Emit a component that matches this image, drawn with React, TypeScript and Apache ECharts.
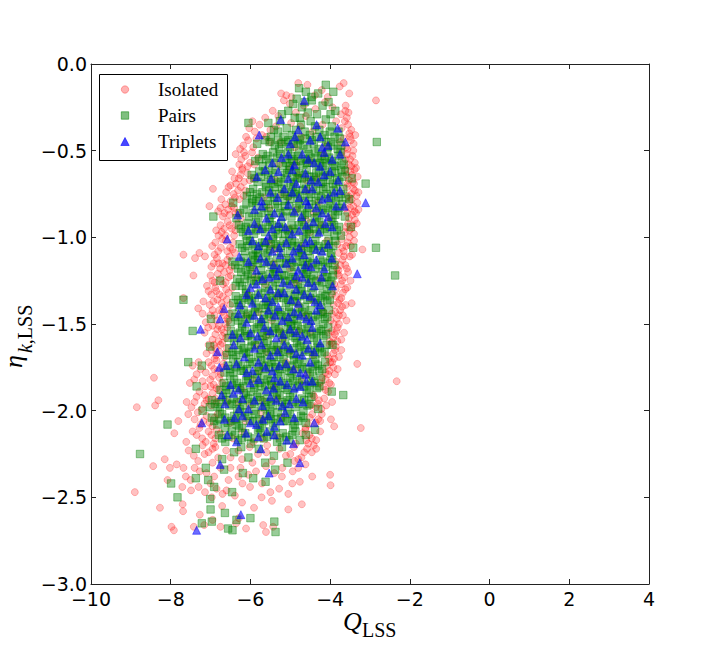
import React, { useEffect, useRef } from "react";
import * as echarts from "echarts";

const seriesNames = ["Isolated", "Pairs", "Triplets"];
const xTickValues = [-10, -8, -6, -4, -2, 0, 2, 4];
const xTickLabels = ["\u221210", "\u22128", "\u22126", "\u22124", "\u22122", "0", "2", "4"];
const yTickValues = [-3, -2.5, -2, -1.5, -1, -0.5, 0];
const yTickLabels = ["\u22123.0", "\u22122.5", "\u22122.0", "\u22121.5", "\u22121.0", "\u22120.5", "0.0"];

const isolated: number[][] = [
[-5.23,-0.17],[-4.21,-0.15],[-3.52,-0.17],[-3.76,-0.13],[-4.57,-0.12],[-4.97,-0.19],[-3.66,-0.11],[-4.06,-0.19],[-4.38,-0.18],
[-2.85,-0.21],[-5.01,-0.23],[-5.44,-0.27],[-3.61,-0.24],[-4.37,-0.26],[-3.73,-0.29],[-4.86,-0.28],[-5.16,-0.21],[-3.54,-0.28],[-4.13,-0.22],[-3.94,-0.25],[-4.66,-0.24],
[-6.03,-0.37],[-5.77,-0.35],[-5.63,-0.31],[-3.63,-0.33],[-3.47,-0.38],[-5.36,-0.36],[-4.98,-0.34],[-4.19,-0.35],[-3.71,-0.37],[-5.89,-0.39],[-4.61,-0.30],[-3.58,-0.31],[-4.44,-0.39],
[-6.26,-0.49],[-3.50,-0.42],[-6.06,-0.44],[-5.93,-0.48],[-5.71,-0.41],[-3.41,-0.46],[-3.56,-0.49],[-3.66,-0.43],[-5.51,-0.45],[-4.72,-0.42],[-4.09,-0.47],[-6.11,-0.42],[-3.37,-0.41],[-4.88,-0.48],
[-6.07,-0.59],[-6.23,-0.55],[-6.37,-0.52],[-5.96,-0.51],[-3.44,-0.53],[-3.53,-0.58],[-3.38,-0.57],[-3.61,-0.55],[-6.01,-0.57],[-5.81,-0.54],[-4.51,-0.56],[-5.29,-0.58],[-3.71,-0.51],[-6.13,-0.53],[-4.17,-0.52],
[-6.46,-0.62],[-6.29,-0.66],[-6.16,-0.68],[-6.07,-0.63],[-3.49,-0.62],[-3.31,-0.65],[-3.43,-0.68],[-3.56,-0.69],[-3.59,-0.64],[-6.21,-0.61],[-6.36,-0.69],[-5.91,-0.66],[-4.81,-0.64],[-3.39,-0.61],[-5.37,-0.67],[-4.33,-0.66],
[-6.39,-0.77],[-6.94,-0.72],[-6.61,-0.74],[-6.24,-0.71],[-6.49,-0.79],[-6.17,-0.76],[-3.42,-0.72],[-3.34,-0.76],[-3.51,-0.79],[-3.29,-0.74],[-3.58,-0.71],[-6.31,-0.73],[-6.73,-0.78],[-5.21,-0.75],[-3.46,-0.78],[-4.56,-0.73],[-5.66,-0.77],
[-7.03,-0.82],[-3.42,-0.82],[-3.35,-0.86],[-6.56,-0.84],[-6.69,-0.88],[-6.38,-0.86],[-6.63,-0.81],[-6.24,-0.89],[-3.45,-0.87],[-3.53,-0.89],[-3.29,-0.84],[-3.61,-0.83],[-6.47,-0.82],[-6.81,-0.85],[-4.41,-0.86],[-5.52,-0.83],[-4.02,-0.89],
[-6.72,-0.97],[-6.47,-0.95],[-6.75,-0.93],[-6.57,-0.91],[-6.41,-0.99],[-6.62,-0.99],[-3.47,-0.95],[-3.55,-0.92],[-3.40,-0.98],[-3.63,-0.97],[-3.33,-0.92],[-6.34,-0.92],[-6.86,-0.96],[-5.01,-0.95],[-3.51,-1.00],[-5.82,-0.94],[-4.23,-0.93],
[-7.68,-1.10],[-7.28,-1.09],[-6.96,-1.05],[-6.81,-1.08],[-6.62,-1.02],[-6.51,-1.06],[-6.39,-1.09],[-6.71,-1.01],[-3.19,-1.07],[-3.56,-1.03],[-3.66,-1.08],[-3.48,-1.05],[-3.71,-1.01],[-6.44,-1.03],[-3.78,-1.09],[-4.71,-1.05],[-5.38,-1.07],[-4.08,-1.02],
[-7.14,-1.11],[-7.39,-1.12],[-6.92,-1.15],[-6.76,-1.18],[-6.58,-1.13],[-6.47,-1.17],[-6.66,-1.20],[-6.84,-1.12],[-3.58,-1.18],[-3.69,-1.13],[-3.62,-1.16],[-3.79,-1.19],[-3.51,-1.11],[-3.86,-1.14],[-5.41,-1.15],[-6.52,-1.11],[-4.53,-1.17],[-5.92,-1.18],
[-7.43,-1.22],[-6.95,-1.25],[-6.82,-1.21],[-6.69,-1.27],[-7.09,-1.28],[-6.55,-1.23],[-6.45,-1.29],[-6.61,-1.30],[-3.64,-1.23],[-3.73,-1.27],[-3.57,-1.29],[-3.81,-1.21],[-3.86,-1.30],[-3.49,-1.25],[-4.91,-1.26],[-6.88,-1.29],[-4.27,-1.24],[-5.63,-1.27],
[-7.68,-1.35],[-7.18,-1.37],[-6.93,-1.37],[-6.78,-1.33],[-6.59,-1.36],[-6.51,-1.39],[-6.86,-1.31],[-7.02,-1.39],[-3.46,-1.38],[-3.68,-1.32],[-3.76,-1.36],[-3.61,-1.39],[-3.85,-1.34],[-3.91,-1.39],[-5.31,-1.34],[-6.68,-1.40],[-4.46,-1.36],[-6.07,-1.33],
[-7.31,-1.41],[-7.01,-1.45],[-6.85,-1.48],[-6.71,-1.43],[-6.58,-1.47],[-6.95,-1.42],[-6.62,-1.50],[-7.12,-1.49],[-3.75,-1.42],[-3.83,-1.47],[-3.68,-1.45],[-3.91,-1.50],[-3.96,-1.44],[-3.59,-1.48],[-4.61,-1.45],[-6.52,-1.44],[-5.46,-1.48],[-4.17,-1.43],
[-7.06,-1.52],[-6.88,-1.56],[-6.72,-1.53],[-6.61,-1.58],[-6.95,-1.59],[-6.79,-1.51],[-3.81,-1.52],[-3.88,-1.56],[-3.72,-1.59],[-3.96,-1.54],[-4.01,-1.60],[-3.65,-1.55],[-5.61,-1.57],[-6.66,-1.55],[-4.78,-1.54],[-5.19,-1.59],
[-6.92,-1.62],[-6.78,-1.66],[-6.65,-1.69],[-6.86,-1.68],[-6.71,-1.61],[-6.98,-1.65],[-3.86,-1.63],[-3.92,-1.67],[-3.78,-1.69],[-4.01,-1.62],[-4.03,-1.70],[-3.72,-1.65],[-5.02,-1.66],[-6.59,-1.64],[-4.43,-1.68],[-5.86,-1.62],
[-7.45,-1.74],[-7.35,-1.79],[-3.32,-1.73],[-7.05,-1.72],[-6.91,-1.76],[-6.75,-1.79],[-6.85,-1.71],[-7.12,-1.78],[-6.68,-1.73],[-3.95,-1.72],[-4.02,-1.77],[-3.88,-1.79],[-4.08,-1.74],[-3.81,-1.76],[-5.79,-1.77],[-6.95,-1.80],[-5.11,-1.72],[-4.57,-1.79],
[-8.42,-1.81],[-7.52,-1.84],[-7.14,-1.86],[-2.33,-1.83],[-7.01,-1.82],[-6.85,-1.87],[-6.78,-1.81],[-7.28,-1.89],[-6.95,-1.90],[-4.11,-1.82],[-4.18,-1.86],[-4.05,-1.89],[-4.26,-1.84],[-3.98,-1.85],[-5.41,-1.86],[-7.41,-1.82],[-6.22,-1.88],[-4.72,-1.83],
[-8.85,-1.98],[-8.39,-1.97],[-8.31,-1.94],[-7.60,-1.95],[-7.35,-1.92],[-7.15,-1.96],[-7.22,-1.99],[-7.48,-1.98],[-4.40,-1.92],[-4.31,-1.96],[-4.22,-1.99],[-4.48,-1.97],[-4.15,-1.93],[-6.01,-1.97],[-7.05,-1.93],[-3.95,-1.95],[-5.32,-1.93],[-6.58,-1.95],
[-3.23,-2.10],[-3.90,-2.09],[-3.98,-2.05],[-4.21,-2.02],[-4.36,-2.07],[-4.51,-2.04],[-7.10,-2.03],[-7.25,-2.08],[-7.40,-2.05],[-7.56,-2.02],[-6.95,-2.09],[-7.81,-2.06],[-5.21,-2.04],[-4.62,-2.10],[-6.12,-2.06],[-5.73,-2.01],[-6.82,-2.02],
[-4.46,-2.16],[-4.25,-2.12],[-4.55,-2.19],[-4.69,-2.13],[-7.05,-2.12],[-7.21,-2.16],[-6.92,-2.19],[-7.35,-2.14],[-7.61,-2.18],[-6.85,-2.11],[-5.31,-2.15],[-4.41,-2.20],[-7.91,-2.13],[-5.93,-2.18],[-6.44,-2.16],[-4.86,-2.19],[-5.58,-2.20],
[-4.46,-2.24],[-4.58,-2.22],[-4.72,-2.27],[-4.91,-2.21],[-5.11,-2.26],[-6.95,-2.22],[-7.15,-2.25],[-7.31,-2.29],[-6.81,-2.27],[-6.61,-2.23],[-5.81,-2.25],[-6.21,-2.28],[-7.55,-2.23],[-8.15,-2.28],[-5.46,-2.29],[-6.02,-2.21],[-5.27,-2.22],
[-8.44,-2.32],[-8.02,-2.33],[-7.85,-2.31],[-7.68,-2.33],[-7.62,-2.38],[-8.08,-2.40],[-7.27,-2.35],[-4.94,-2.35],[-4.00,-2.37],[-6.50,-2.33],[-6.05,-2.37],[-5.61,-2.32],[-5.21,-2.38],[-6.91,-2.38],[-4.62,-2.31],[-5.86,-2.35],
[-8.90,-2.47],[-7.49,-2.46],[-7.14,-2.47],[-6.85,-2.45],[-6.60,-2.46],[-6.39,-2.49],[-5.28,-2.45],[-4.76,-2.41],[-3.99,-2.43],[-6.01,-2.44],[-5.71,-2.42],[-5.05,-2.48],[-6.97,-2.50],[-7.71,-2.44],
[-8.27,-2.56],[-7.70,-2.54],[-7.69,-2.58],[-7.27,-2.60],[-5.72,-2.50],[-5.05,-2.57],[-4.71,-2.54],[-6.21,-2.53],[-5.91,-2.56],[-6.71,-2.55],[-5.46,-2.52],
[-7.98,-2.67],[-7.92,-2.69],[-7.42,-2.67],[-6.75,-2.67],[-6.36,-2.65],[-6.29,-2.62],[-5.68,-2.66],[-5.61,-2.70],[-5.43,-2.67],[-6.95,-2.63],[-7.16,-2.66],[-6.11,-2.68],
[-5.95,-0.33],[-5.50,-0.38],[-3.85,-0.33],[-3.55,-0.35],[-4.75,-0.36],
[-5.85,-0.43],[-6.18,-0.47],[-3.75,-0.45],[-3.48,-0.44],[-3.60,-0.48],[-5.25,-0.45],
[-6.28,-0.58],[-6.16,-0.51],[-5.90,-0.58],[-3.50,-0.55],[-3.58,-0.52],[-3.47,-0.59],[-4.85,-0.57],
[-6.40,-0.66],[-6.25,-0.64],[-6.02,-0.67],[-3.45,-0.64],[-3.53,-0.67],[-3.62,-0.61],[-4.60,-0.67],
[-6.55,-0.71],[-6.42,-0.75],[-6.28,-0.78],[-6.12,-0.73],[-3.38,-0.73],[-3.47,-0.75],[-3.55,-0.76],[-5.05,-0.77],
[-6.75,-0.83],[-6.52,-0.87],[-6.41,-0.83],[-6.30,-0.86],[-3.39,-0.85],[-3.50,-0.83],[-3.57,-0.86],[-4.85,-0.84],
[-6.66,-0.95],[-6.52,-0.93],[-6.38,-0.96],[-3.43,-0.93],[-3.52,-0.96],[-3.60,-0.94],[-4.50,-0.97],
[-6.88,-1.03],[-6.74,-1.06],[-6.58,-1.08],[-6.45,-1.07],[-3.60,-1.05],[-3.70,-1.06],[-3.82,-1.04],[-5.55,-1.02],
[-6.98,-1.17],[-6.80,-1.15],[-6.62,-1.16],[-6.52,-1.19],[-3.65,-1.11],[-3.74,-1.16],[-3.83,-1.18],[-5.00,-1.18],
[-7.00,-1.22],[-6.75,-1.24],[-6.62,-1.26],[-6.49,-1.22],[-3.70,-1.25],[-3.78,-1.22],[-3.90,-1.27],[-5.90,-1.23],
[-6.98,-1.33],[-6.83,-1.36],[-6.69,-1.34],[-6.55,-1.32],[-3.72,-1.35],[-3.80,-1.38],[-3.95,-1.33],[-4.80,-1.39],
[-6.90,-1.45],[-6.78,-1.42],[-6.66,-1.45],[-6.55,-1.48],[-3.78,-1.45],[-3.87,-1.43],[-3.99,-1.48],[-5.80,-1.43],
[-7.15,-1.55],[-6.83,-1.53],[-6.70,-1.57],[-6.58,-1.52],[-3.84,-1.54],[-3.92,-1.58],[-4.05,-1.55],[-5.25,-1.54],
[-7.05,-1.62],[-6.88,-1.64],[-6.75,-1.62],[-6.62,-1.67],[-3.88,-1.65],[-3.96,-1.61],[-4.08,-1.68],[-5.60,-1.66],
[-7.25,-1.76],[-6.98,-1.74],[-6.82,-1.77],[-6.70,-1.75],[-3.92,-1.75],[-4.00,-1.72],[-4.12,-1.78],[-4.90,-1.76],
[-7.20,-1.83],[-6.92,-1.85],[-6.80,-1.88],[-6.71,-1.84],[-4.02,-1.84],[-4.12,-1.88],[-4.20,-1.81],[-5.95,-1.82],
[-7.40,-1.95],[-7.10,-1.94],[-6.98,-1.97],[-6.88,-1.93],[-4.28,-1.94],[-4.36,-1.98],[-4.42,-1.91],[-5.70,-1.94],
[-7.32,-2.01],[-7.18,-2.06],[-7.03,-2.07],[-6.90,-2.04],[-4.45,-2.02],[-4.30,-2.05],[-4.55,-2.08],[-6.50,-2.07],
[-7.45,-2.12],[-7.12,-2.18],[-6.98,-2.14],[-6.88,-2.16],[-4.52,-2.14],[-4.35,-2.17],[-4.62,-2.11],[-5.70,-2.16],[-6.20,-2.12],
[-7.42,-2.26],[-7.05,-2.24],[-6.88,-2.21],[-6.50,-2.27],[-4.65,-2.24],[-4.80,-2.28],[-5.00,-2.25],[-5.60,-2.24],[-6.30,-2.23],
[-7.40,-2.33],[-7.10,-2.36],[-6.75,-2.33],[-6.30,-2.38],[-5.40,-2.36],[-4.80,-2.33],[-4.45,-2.38],
[-7.30,-2.44],[-7.00,-2.42],[-6.70,-2.48],[-6.20,-2.42],[-5.50,-2.47],[-4.95,-2.42],
[-6.90,-1.26],[-7.05,-1.31],[-6.72,-1.38],[-6.95,-1.51],[-7.20,-1.44],[-6.80,-1.60],[-7.10,-1.67],[-6.90,-1.70],[-7.30,-1.72],[-7.00,-1.86],
[-7.15,-1.91],[-6.85,-1.95],[-7.28,-2.10],[-6.75,-2.13],[-7.20,-2.20],[-6.95,-2.30],[-7.50,-2.40],[-6.55,-2.40],[-6.25,-2.33],[-5.95,-2.30],
[-5.20,-2.33],[-4.90,-2.29],[-4.60,-2.17],[-4.35,-2.22],[-4.25,-2.06],[-4.10,-1.97],[-4.05,-1.79],[-3.90,-1.70],[-3.82,-1.60],[-3.78,-1.50],
[-3.70,-1.40],[-3.62,-1.30],[-3.55,-1.20],[-3.45,-1.10],[-3.40,-1.02],[-3.38,-0.90],[-3.32,-0.80],[-3.40,-0.69],[-3.35,-0.60],[-3.42,-0.50],
[-3.52,-0.40],[-3.62,-0.27],[-5.60,-0.42],[-6.20,-0.60],[-6.50,-0.70],[-6.65,-0.86],[-6.80,-0.99],[-6.90,-1.10],[-6.70,-1.15],[-5.30,-0.30],
[-5.10,-0.18],[-4.80,-0.11],[-5.50,-1.05],[-4.80,-1.25],[-5.30,-1.65],[-6.10,-1.45],[-4.60,-0.90],[-5.70,-2.05],[-6.30,-1.95],[-4.50,-1.55],
[-5.00,-0.60],[-4.30,-0.80]
];

const pairs: number[][] = [
[-4.78,-0.14],[-3.92,-0.16],[-4.30,-0.17],[-4.84,-0.20],[-4.47,-0.19],[-4.11,-0.12],[-4.61,-0.16],
[-4.46,-0.21],[-4.19,-0.24],[-5.05,-0.27],[-4.71,-0.25],[-4.04,-0.22],[-3.87,-0.27],[-4.56,-0.28],[-4.93,-0.23],[-4.33,-0.29],[-5.21,-0.29],[-3.99,-0.29],[-4.63,-0.22],
[-6.05,-0.34],[-5.41,-0.38],[-5.55,-0.34],[-5.09,-0.37],[-4.89,-0.31],[-4.73,-0.35],[-4.49,-0.33],[-4.27,-0.38],[-4.11,-0.32],[-3.96,-0.36],[-3.79,-0.39],[-4.64,-0.39],[-4.86,-0.38],[-5.26,-0.33],[-4.38,-0.36],[-4.01,-0.39],[-4.76,-0.31],[-5.31,-0.39],
[-5.83,-0.46],[-2.83,-0.45],[-5.63,-0.44],[-5.39,-0.47],[-5.17,-0.42],[-5.01,-0.48],[-4.84,-0.43],[-4.67,-0.47],[-4.51,-0.41],[-4.41,-0.46],[-4.21,-0.43],[-4.06,-0.48],[-3.89,-0.42],[-3.72,-0.47],[-4.96,-0.41],[-4.57,-0.49],[-4.29,-0.49],[-5.28,-0.49],[-3.98,-0.45],[-4.76,-0.44],[-5.11,-0.45],[-4.14,-0.41],[-3.81,-0.49],[-5.49,-0.42],
[-5.88,-0.56],[-5.69,-0.52],[-5.53,-0.58],[-5.34,-0.54],[-5.19,-0.59],[-5.06,-0.51],[-4.91,-0.56],[-4.81,-0.53],[-4.67,-0.58],[-4.54,-0.52],[-4.46,-0.57],[-4.31,-0.54],[-4.19,-0.59],[-4.07,-0.51],[-3.96,-0.56],[-3.79,-0.53],[-3.66,-0.58],[-5.61,-0.55],[-5.13,-0.55],[-4.87,-0.59],[-4.61,-0.55],[-4.37,-0.51],[-4.14,-0.55],[-3.87,-0.59],[-5.43,-0.51],[-4.99,-0.53],[-4.25,-0.57],[-3.74,-0.51],
[-3.46,-0.66],[-3.11,-0.69],[-5.97,-0.64],[-5.82,-0.68],[-5.64,-0.62],[-5.49,-0.67],[-5.37,-0.61],[-5.23,-0.66],[-5.08,-0.63],[-4.99,-0.69],[-4.86,-0.62],[-4.71,-0.66],[-4.59,-0.61],[-4.47,-0.68],[-4.35,-0.63],[-4.23,-0.69],[-4.13,-0.62],[-4.01,-0.67],[-3.87,-0.63],[-3.77,-0.68],[-3.63,-0.62],[-5.73,-0.65],[-5.41,-0.69],[-5.17,-0.69],[-4.93,-0.65],[-4.65,-0.69],[-4.41,-0.65],[-4.17,-0.65],[-3.93,-0.69],[-3.69,-0.65],
[-3.52,-0.78],[-6.09,-0.76],[-5.93,-0.72],[-5.77,-0.77],[-5.61,-0.71],[-5.47,-0.75],[-5.33,-0.79],[-5.21,-0.72],[-5.07,-0.76],[-4.93,-0.71],[-4.81,-0.78],[-4.69,-0.73],[-4.54,-0.77],[-4.43,-0.71],[-4.29,-0.76],[-4.17,-0.72],[-4.04,-0.78],[-3.91,-0.73],[-3.79,-0.77],[-3.67,-0.72],[-5.86,-0.79],[-5.56,-0.79],[-5.13,-0.79],[-4.89,-0.75],[-4.63,-0.79],[-4.36,-0.79],[-4.09,-0.75],[-3.85,-0.79],[-5.39,-0.71],[-4.97,-0.74],
[-6.93,-0.88],[-6.43,-0.80],[-6.35,-0.89],[-6.17,-0.84],[-6.03,-0.88],[-5.87,-0.82],[-5.73,-0.86],[-5.61,-0.81],[-5.47,-0.87],[-5.31,-0.83],[-5.19,-0.88],[-5.03,-0.82],[-4.91,-0.86],[-4.77,-0.81],[-4.63,-0.87],[-4.53,-0.83],[-4.39,-0.89],[-4.27,-0.82],[-4.13,-0.86],[-3.99,-0.81],[-3.87,-0.87],[-3.77,-0.83],[-3.63,-0.88],[-5.96,-0.80],[-5.53,-0.89],[-5.11,-0.85],[-4.71,-0.89],[-4.33,-0.85],[-3.93,-0.84],[-3.48,-0.94],
[-6.29,-0.93],[-6.19,-0.97],[-6.07,-0.92],[-5.91,-0.98],[-5.79,-0.93],[-5.63,-0.97],[-5.51,-0.91],[-5.37,-0.96],[-5.23,-0.92],[-5.13,-0.98],[-4.97,-0.93],[-4.87,-0.97],[-4.71,-0.91],[-4.59,-0.96],[-4.47,-0.92],[-4.33,-0.98],[-4.21,-0.93],[-4.07,-0.97],[-3.97,-0.91],[-3.83,-0.96],[-3.73,-0.99],[-5.86,-0.91],[-5.43,-0.99],[-5.03,-0.99],[-4.67,-0.99],[-4.26,-0.96],[-3.89,-0.99],[-6.11,-0.99],[-5.29,-0.94],[-4.53,-0.95],
[-3.42,-1.06],[-2.85,-1.06],[-6.27,-1.04],[-6.14,-1.08],[-6.01,-1.02],[-5.87,-1.07],[-5.71,-1.03],[-5.57,-1.09],[-5.43,-1.01],[-5.31,-1.06],[-5.17,-1.02],[-5.01,-1.08],[-4.89,-1.03],[-4.73,-1.07],[-4.61,-1.01],[-4.49,-1.06],[-4.37,-1.02],[-4.23,-1.08],[-4.11,-1.04],[-3.97,-1.09],[-3.87,-1.02],[-6.07,-1.05],[-5.67,-1.06],[-5.23,-1.09],[-4.81,-1.09],[-4.43,-1.04],[-4.03,-1.06],[-5.93,-1.10],[-5.49,-1.04],[-4.95,-1.05],
[-6.45,-1.14],[-6.31,-1.18],[-6.17,-1.12],[-6.01,-1.17],[-5.89,-1.13],[-5.73,-1.19],[-5.61,-1.11],[-5.47,-1.16],[-5.33,-1.12],[-5.19,-1.18],[-5.03,-1.13],[-4.91,-1.17],[-4.77,-1.11],[-4.63,-1.16],[-4.51,-1.12],[-4.37,-1.18],[-4.25,-1.13],[-4.11,-1.17],[-3.99,-1.11],[-3.89,-1.16],[-6.23,-1.20],[-5.81,-1.15],[-5.37,-1.20],[-4.97,-1.20],[-4.57,-1.19],[-4.19,-1.20],[-3.93,-1.19],[-5.11,-1.15],[-4.69,-1.14],[-5.95,-1.11],
[-2.37,-1.22],[-6.76,-1.25],[-6.33,-1.24],[-6.21,-1.28],[-6.07,-1.22],[-5.91,-1.27],[-5.79,-1.23],[-5.63,-1.29],[-5.51,-1.21],[-5.37,-1.26],[-5.21,-1.22],[-5.09,-1.28],[-4.93,-1.23],[-4.81,-1.27],[-4.67,-1.21],[-4.53,-1.26],[-4.41,-1.22],[-4.27,-1.28],[-4.13,-1.23],[-4.01,-1.27],[-3.93,-1.22],[-6.11,-1.30],[-5.69,-1.25],[-5.27,-1.30],[-4.87,-1.30],[-4.47,-1.29],[-4.07,-1.30],[-5.97,-1.21],[-5.13,-1.25],[-4.61,-1.24],
[-7.68,-1.36],[-6.37,-1.34],[-6.23,-1.38],[-6.11,-1.32],[-5.97,-1.37],[-5.81,-1.33],[-5.67,-1.39],[-5.53,-1.31],[-5.41,-1.36],[-5.27,-1.32],[-5.11,-1.38],[-4.99,-1.33],[-4.83,-1.37],[-4.71,-1.31],[-4.57,-1.36],[-4.43,-1.32],[-4.31,-1.38],[-4.19,-1.33],[-4.07,-1.37],[-3.97,-1.31],[-6.29,-1.40],[-5.87,-1.40],[-5.47,-1.40],[-5.03,-1.40],[-4.63,-1.40],[-4.23,-1.40],[-6.03,-1.34],[-5.61,-1.35],[-5.17,-1.35],[-4.89,-1.34],
[-6.99,-1.47],[-6.45,-1.44],[-6.31,-1.48],[-6.17,-1.42],[-6.01,-1.47],[-5.89,-1.43],[-5.73,-1.49],[-5.61,-1.41],[-5.47,-1.46],[-5.31,-1.42],[-5.19,-1.48],[-5.03,-1.43],[-4.91,-1.47],[-4.77,-1.41],[-4.63,-1.46],[-4.49,-1.42],[-4.37,-1.48],[-4.23,-1.43],[-4.13,-1.47],[-4.03,-1.42],[-6.21,-1.50],[-5.79,-1.50],[-5.39,-1.50],[-4.97,-1.50],[-4.57,-1.50],[-4.17,-1.50],[-6.07,-1.44],[-5.67,-1.45],[-5.23,-1.45],[-4.81,-1.44],
[-7.45,-1.54],[-6.49,-1.54],[-6.33,-1.58],[-6.21,-1.52],[-6.07,-1.57],[-5.91,-1.53],[-5.77,-1.59],[-5.63,-1.51],[-5.51,-1.56],[-5.37,-1.52],[-5.21,-1.58],[-5.07,-1.53],[-4.93,-1.57],[-4.81,-1.51],[-4.67,-1.56],[-4.53,-1.52],[-4.41,-1.58],[-4.27,-1.53],[-4.17,-1.57],[-4.05,-1.52],[-6.41,-1.60],[-5.97,-1.60],[-5.57,-1.60],[-5.13,-1.60],[-4.73,-1.60],[-4.33,-1.60],[-6.13,-1.54],[-5.71,-1.55],[-5.27,-1.55],[-4.87,-1.54],
[-7.01,-1.63],[-3.94,-1.62],[-6.53,-1.64],[-6.37,-1.68],[-6.23,-1.62],[-6.11,-1.67],[-5.97,-1.63],[-5.81,-1.69],[-5.67,-1.61],[-5.53,-1.66],[-5.41,-1.62],[-5.27,-1.68],[-5.11,-1.63],[-4.99,-1.67],[-4.83,-1.61],[-4.71,-1.66],[-4.57,-1.62],[-4.43,-1.68],[-4.31,-1.63],[-4.21,-1.67],[-4.09,-1.62],[-6.43,-1.70],[-6.03,-1.70],[-5.59,-1.70],[-5.17,-1.70],[-4.77,-1.70],[-4.37,-1.70],[-6.17,-1.64],[-5.73,-1.65],[-5.31,-1.65],[-4.91,-1.64],
[-7.56,-1.72],[-7.22,-1.74],[-6.57,-1.74],[-6.43,-1.78],[-6.31,-1.72],[-6.17,-1.77],[-6.01,-1.73],[-5.89,-1.79],[-5.73,-1.71],[-5.61,-1.76],[-5.47,-1.72],[-5.31,-1.78],[-5.19,-1.73],[-5.03,-1.77],[-4.91,-1.71],[-4.77,-1.76],[-4.63,-1.72],[-4.51,-1.78],[-4.37,-1.73],[-4.27,-1.77],[-4.13,-1.72],[-6.51,-1.80],[-6.07,-1.80],[-5.67,-1.80],[-5.23,-1.80],[-4.83,-1.80],[-4.43,-1.80],[-6.23,-1.74],[-5.79,-1.75],[-5.37,-1.75],[-4.97,-1.74],
[-7.35,-1.86],[-3.96,-1.89],[-6.67,-1.84],[-6.53,-1.88],[-6.41,-1.82],[-6.27,-1.87],[-6.11,-1.83],[-5.99,-1.89],[-5.83,-1.81],[-5.71,-1.86],[-5.57,-1.82],[-5.41,-1.88],[-5.29,-1.83],[-5.13,-1.87],[-5.01,-1.81],[-4.87,-1.86],[-4.71,-1.82],[-4.59,-1.88],[-4.47,-1.83],[-4.33,-1.87],[-4.23,-1.82],[-6.61,-1.90],[-6.17,-1.90],[-5.77,-1.90],[-5.33,-1.90],[-4.93,-1.90],[-4.53,-1.90],[-6.33,-1.84],[-5.91,-1.85],[-5.47,-1.85],[-5.07,-1.84],
[-3.67,-1.91],[-4.30,-1.99],[-7.20,-2.00],[-6.97,-1.94],[-6.81,-1.98],[-6.69,-1.92],[-6.53,-1.97],[-6.41,-1.93],[-6.27,-1.99],[-6.11,-1.91],[-5.97,-1.96],[-5.83,-1.92],[-5.71,-1.98],[-5.57,-1.93],[-5.43,-1.97],[-5.27,-1.91],[-5.13,-1.96],[-5.01,-1.92],[-4.87,-1.98],[-4.71,-1.93],[-4.57,-1.97],[-4.47,-1.92],[-6.77,-2.00],[-6.33,-2.00],[-5.91,-2.00],[-5.51,-2.00],[-5.07,-2.00],[-4.67,-2.00],[-6.19,-1.94],[-5.63,-1.95],[-5.21,-1.95],
[-8.08,-2.08],[-6.97,-2.04],[-6.83,-2.08],[-6.71,-2.02],[-6.57,-2.07],[-6.41,-2.03],[-6.29,-2.09],[-6.13,-2.01],[-6.01,-2.06],[-5.87,-2.02],[-5.71,-2.08],[-5.59,-2.03],[-5.43,-2.07],[-5.31,-2.01],[-5.17,-2.06],[-5.01,-2.02],[-4.89,-2.08],[-4.73,-2.03],[-4.61,-2.07],[-6.63,-2.10],[-6.21,-2.10],[-5.77,-2.10],[-5.37,-2.10],[-4.93,-2.10],[-6.37,-2.05],[-5.49,-2.05],
[-4.38,-2.11],[-4.76,-2.17],[-6.79,-2.14],[-6.63,-2.18],[-6.47,-2.12],[-6.31,-2.17],[-6.13,-2.13],[-5.99,-2.19],[-5.81,-2.11],[-5.67,-2.16],[-5.51,-2.12],[-5.33,-2.18],[-5.19,-2.13],[-5.03,-2.17],[-4.87,-2.12],[-4.61,-2.14],
[-8.77,-2.25],[-7.37,-2.22],[-5.63,-2.30],[-5.07,-2.30],[-6.41,-2.24],[-6.05,-2.27],[-5.79,-2.22],[-5.41,-2.26],[-6.71,-2.28],[-5.21,-2.21],[-6.23,-2.21],
[-7.12,-2.33],[-6.66,-2.34],[-5.38,-2.34],[-7.37,-2.39],[-7.06,-2.40],[-5.93,-2.39],[-6.19,-2.36],
[-5.62,-2.41],[-7.99,-2.42],[-7.83,-2.50],[-6.91,-2.44],[-6.46,-2.47],
[-7.01,-2.51],[-7.00,-2.57],[-6.64,-2.59],
[-7.22,-2.65],[-6.97,-2.64],[-6.56,-2.68],[-6.45,-2.69],[-6.35,-2.63],[-6.00,-2.62],[-5.40,-2.64],[-5.37,-2.70],
[-5.52,-0.45],[-5.31,-0.44],[-5.05,-0.44],[-4.91,-0.46],[-4.62,-0.43],[-4.46,-0.44],[-4.34,-0.42],[-4.10,-0.45],[-3.93,-0.47],[-3.76,-0.43],[-5.22,-0.46],[-4.80,-0.46],
[-5.78,-0.55],[-5.57,-0.53],[-5.40,-0.57],[-5.25,-0.52],[-5.10,-0.57],[-4.95,-0.55],[-4.74,-0.56],[-4.58,-0.57],[-4.50,-0.54],[-4.35,-0.58],[-4.22,-0.53],[-4.02,-0.54],[-3.91,-0.58],[-3.70,-0.56],[-5.01,-0.59],[-4.78,-0.51],[-5.69,-0.59],[-4.10,-0.57],
[-5.90,-0.66],[-5.78,-0.62],[-5.55,-0.64],[-5.44,-0.63],[-5.30,-0.68],[-5.14,-0.64],[-5.03,-0.61],[-4.90,-0.68],[-4.78,-0.63],[-4.64,-0.64],[-4.52,-0.65],[-4.39,-0.67],[-4.28,-0.62],[-4.19,-0.68],[-4.06,-0.64],[-3.96,-0.62],[-3.82,-0.66],[-3.72,-0.61],[-5.61,-0.69],[-4.82,-0.66],
[-6.01,-0.74],[-5.84,-0.75],[-5.70,-0.74],[-5.53,-0.73],[-5.41,-0.77],[-5.27,-0.75],[-5.14,-0.74],[-5.01,-0.78],[-4.86,-0.73],[-4.75,-0.76],[-4.61,-0.72],[-4.49,-0.75],[-4.35,-0.73],[-4.23,-0.77],[-4.11,-0.71],[-3.98,-0.76],[-3.86,-0.71],[-3.73,-0.75],[-3.61,-0.77],[-5.95,-0.78],
[-6.26,-0.86],[-6.10,-0.81],[-5.95,-0.86],[-5.80,-0.88],[-5.66,-0.83],[-5.54,-0.85],[-5.39,-0.81],[-5.25,-0.86],[-5.14,-0.82],[-4.97,-0.88],[-4.84,-0.83],[-4.70,-0.84],[-4.58,-0.86],[-4.46,-0.81],[-4.33,-0.88],[-4.19,-0.84],[-4.06,-0.83],[-3.94,-0.89],[-3.81,-0.85],[-3.70,-0.81],
[-6.24,-0.95],[-6.12,-0.94],[-5.98,-0.95],[-5.85,-0.96],[-5.70,-0.95],[-5.57,-0.94],[-5.45,-0.93],[-5.31,-0.98],[-5.18,-0.95],[-5.06,-0.96],[-4.92,-0.95],[-4.79,-0.93],[-4.65,-0.94],[-4.53,-0.98],[-4.40,-0.95],[-4.27,-0.91],[-4.14,-0.95],[-4.01,-0.94],[-3.90,-0.93],[-3.78,-0.94],
[-6.21,-1.06],[-6.08,-1.02],[-5.94,-1.04],[-5.79,-1.05],[-5.64,-1.03],[-5.51,-1.07],[-5.37,-1.04],[-5.24,-1.05],[-5.09,-1.04],[-4.96,-1.02],[-4.81,-1.05],[-4.67,-1.04],[-4.55,-1.08],[-4.42,-1.07],[-4.30,-1.05],[-4.16,-1.06],[-4.04,-1.02],[-3.92,-1.05],[-5.81,-1.09],[-4.70,-1.09],
[-6.38,-1.16],[-6.24,-1.14],[-6.09,-1.15],[-5.95,-1.16],[-5.81,-1.11],[-5.67,-1.15],[-5.54,-1.14],[-5.40,-1.18],[-5.26,-1.15],[-5.11,-1.12],[-4.97,-1.15],[-4.84,-1.14],[-4.71,-1.18],[-4.57,-1.14],[-4.44,-1.15],[-4.31,-1.16],[-4.18,-1.14],[-4.05,-1.15],[-3.95,-1.13],[-6.11,-1.19],
[-6.27,-1.26],[-6.14,-1.24],[-5.99,-1.25],[-5.85,-1.25],[-5.71,-1.22],[-5.57,-1.24],[-5.44,-1.28],[-5.30,-1.24],[-5.15,-1.22],[-5.01,-1.25],[-4.87,-1.24],[-4.74,-1.29],[-4.60,-1.21],[-4.47,-1.24],[-4.34,-1.25],[-4.20,-1.26],[-4.07,-1.23],[-3.97,-1.25],[-6.37,-1.28],[-5.43,-1.21],
[-6.31,-1.36],[-6.17,-1.35],[-6.04,-1.36],[-5.89,-1.35],[-5.74,-1.32],[-5.60,-1.37],[-5.47,-1.34],[-5.34,-1.35],[-5.19,-1.33],[-5.05,-1.36],[-4.92,-1.37],[-4.77,-1.34],[-4.64,-1.33],[-4.50,-1.35],[-4.37,-1.36],[-4.24,-1.35],[-4.12,-1.34],[-4.01,-1.36],[-6.43,-1.38],[-5.55,-1.39],
[-6.38,-1.46],[-6.24,-1.45],[-6.10,-1.47],[-5.95,-1.45],[-5.81,-1.41],[-5.67,-1.47],[-5.53,-1.44],[-5.40,-1.45],[-5.25,-1.43],[-5.11,-1.46],[-4.97,-1.44],[-4.84,-1.48],[-4.70,-1.43],[-4.56,-1.45],[-4.43,-1.46],[-4.30,-1.45],[-4.18,-1.44],[-4.07,-1.46],[-6.50,-1.49],[-5.05,-1.49],
[-6.41,-1.56],[-6.27,-1.55],[-6.13,-1.57],[-5.99,-1.56],[-5.84,-1.52],[-5.70,-1.57],[-5.57,-1.54],[-5.44,-1.55],[-5.29,-1.53],[-5.15,-1.56],[-5.00,-1.55],[-4.87,-1.58],[-4.73,-1.53],[-4.60,-1.55],[-4.47,-1.56],[-4.34,-1.55],[-4.22,-1.54],[-4.10,-1.56],[-6.55,-1.58],[-4.99,-1.51],
[-6.45,-1.66],[-6.31,-1.65],[-6.17,-1.67],[-6.03,-1.66],[-5.89,-1.62],[-5.75,-1.67],[-5.61,-1.64],[-5.47,-1.65],[-5.33,-1.63],[-5.19,-1.66],[-5.05,-1.65],[-4.91,-1.68],[-4.77,-1.63],[-4.64,-1.65],[-4.51,-1.66],[-4.38,-1.65],[-4.26,-1.64],[-4.14,-1.66],[-6.59,-1.68],[-5.41,-1.69],
[-6.51,-1.76],[-6.37,-1.75],[-6.23,-1.77],[-6.09,-1.76],[-5.95,-1.72],[-5.81,-1.77],[-5.67,-1.74],[-5.53,-1.75],[-5.39,-1.73],[-5.25,-1.76],[-5.11,-1.75],[-4.97,-1.78],[-4.83,-1.73],[-4.70,-1.75],[-4.57,-1.76],[-4.44,-1.75],[-4.31,-1.74],[-4.20,-1.76],[-6.65,-1.78],[-5.45,-1.79],
[-6.61,-1.86],[-6.47,-1.85],[-6.33,-1.87],[-6.19,-1.86],[-6.05,-1.82],[-5.91,-1.87],[-5.77,-1.84],[-5.63,-1.85],[-5.49,-1.83],[-5.35,-1.86],[-5.21,-1.85],[-5.07,-1.88],[-4.93,-1.83],[-4.79,-1.85],[-4.65,-1.86],[-4.52,-1.85],[-4.39,-1.84],[-4.27,-1.86],[-6.75,-1.88],[-5.55,-1.89],
[-6.89,-1.96],[-6.75,-1.95],[-6.61,-1.94],[-6.47,-1.96],[-6.33,-1.95],[-6.19,-1.97],[-6.05,-1.93],[-5.91,-1.95],[-5.77,-1.94],[-5.63,-1.98],[-5.49,-1.95],[-5.35,-1.93],[-5.21,-1.98],[-5.07,-1.94],[-4.93,-1.95],[-4.79,-1.96],[-4.65,-1.94],[-4.52,-1.96],[-7.02,-1.98],
[-6.91,-2.06],[-6.77,-2.05],[-6.63,-2.04],[-6.49,-2.06],[-6.35,-2.08],[-6.21,-2.04],[-6.07,-2.03],[-5.93,-2.06],[-5.79,-2.05],[-5.65,-2.06],[-5.51,-2.02],[-5.37,-2.05],[-5.23,-2.04],[-5.09,-2.06],[-4.95,-2.05],[-4.81,-2.06],[-4.67,-2.04],
[-6.71,-2.16],[-6.55,-2.15],[-6.39,-2.14],[-6.22,-2.16],[-6.06,-2.15],[-5.90,-2.16],[-5.74,-2.13],[-5.58,-2.15],[-5.42,-2.14],[-5.26,-2.16],[-5.10,-2.15],[-4.95,-2.14]
];

const triplets: number[][] = [
[-4.65,-0.21],
[-5.24,-0.32],[-4.34,-0.35],[-3.81,-0.37],[-4.80,-0.38],
[-5.78,-0.41],[-3.62,-0.45],[-4.50,-0.44],[-4.05,-0.47],[-5.00,-0.46],[-4.25,-0.42],
[-5.22,-0.54],[-4.70,-0.52],[-4.40,-0.57],[-3.95,-0.55],[-4.15,-0.51],[-4.90,-0.58],[-5.45,-0.57],[-3.75,-0.52],
[-5.84,-0.65],[-5.63,-0.61],[-5.05,-0.66],[-4.62,-0.63],[-4.30,-0.68],[-4.00,-0.62],[-3.80,-0.67],[-4.85,-0.69],[-5.30,-0.62],
[-5.50,-0.74],[-5.15,-0.72],[-4.78,-0.77],[-4.45,-0.72],[-4.20,-0.78],[-3.90,-0.74],[-5.72,-0.79],[-4.60,-0.79],
[-6.32,-0.87],[-3.11,-0.80],[-3.65,-0.82],[-5.90,-0.84],[-5.40,-0.86],[-5.05,-0.81],[-4.72,-0.88],[-4.35,-0.83],[-4.05,-0.88],[-5.60,-0.89],[-4.90,-0.85],
[-5.75,-0.95],[-5.30,-0.92],[-4.95,-0.98],[-4.60,-0.93],[-4.28,-0.97],[-3.95,-0.94],[-5.55,-0.99],[-4.42,-0.91],[-6.05,-0.96],
[-6.58,-1.01],[-5.80,-1.05],[-5.45,-1.08],[-5.10,-1.03],[-4.78,-1.06],[-4.50,-1.02],[-4.20,-1.08],[-5.25,-1.10],[-4.65,-1.10],[-5.95,-1.02],
[-6.28,-1.11],[-3.96,-1.12],[-5.60,-1.14],[-5.28,-1.18],[-4.95,-1.12],[-4.62,-1.16],[-4.35,-1.13],[-5.85,-1.19],[-4.15,-1.18],[-5.10,-1.15],
[-3.32,-1.21],[-3.94,-1.28],[-5.70,-1.24],[-5.35,-1.22],[-5.00,-1.27],[-4.70,-1.23],[-4.40,-1.28],[-6.00,-1.29],[-4.85,-1.30],[-5.50,-1.30],
[-6.26,-1.39],[-5.80,-1.33],[-5.45,-1.37],[-5.15,-1.32],[-4.80,-1.38],[-4.50,-1.34],[-4.25,-1.39],[-5.95,-1.38],[-5.30,-1.40],
[-6.66,-1.41],[-6.76,-1.47],[-5.90,-1.45],[-5.55,-1.42],[-5.20,-1.48],[-4.90,-1.43],[-4.60,-1.47],[-4.35,-1.42],[-6.10,-1.49],
[-7.25,-1.53],[-6.00,-1.55],[-5.65,-1.52],[-5.35,-1.58],[-5.00,-1.53],[-4.70,-1.57],[-4.45,-1.52],[-6.25,-1.58],
[-6.83,-1.66],[-4.25,-1.61],[-5.90,-1.64],[-5.50,-1.68],[-5.15,-1.62],[-4.85,-1.67],[-4.55,-1.64],[-6.15,-1.69],
[-6.78,-1.75],[-6.61,-1.74],[-5.80,-1.72],[-5.45,-1.77],[-5.10,-1.73],[-4.75,-1.78],[-6.10,-1.78],[-4.50,-1.72],
[-6.00,-1.84],[-5.60,-1.88],[-5.25,-1.83],[-4.90,-1.87],[-4.60,-1.83],[-6.30,-1.88],[-5.40,-1.81],
[-6.72,-1.91],[-6.43,-1.90],[-6.29,-1.99],[-6.64,-1.96],[-5.90,-1.94],[-5.50,-1.92],[-5.20,-1.97],[-4.85,-1.93],[-6.05,-1.99],
[-5.13,-2.01],[-7.22,-2.07],[-6.00,-2.07],[-5.69,-2.05],[-4.40,-2.07],[-6.40,-2.04],[-5.40,-2.09],
[-5.09,-2.17],[-5.80,-2.15],[-5.59,-2.12],[-6.11,-2.13],[-6.58,-2.14],
[-5.74,-2.22],[-4.76,-2.30],
[-6.76,-2.31],[-5.53,-2.36],
[-6.24,-2.60],
[-7.35,-2.69],
[-4.88,-0.42],[-4.20,-0.48],
[-5.05,-0.52],[-4.55,-0.55],[-4.25,-0.59],
[-5.48,-0.66],[-4.95,-0.61],[-4.48,-0.67],[-4.15,-0.64],
[-5.32,-0.77],[-4.95,-0.74],[-4.62,-0.72],[-4.05,-0.77],[-3.75,-0.73],
[-5.72,-0.82],[-5.22,-0.88],[-4.55,-0.81],[-4.20,-0.86],[-3.85,-0.82],
[-5.90,-0.92],[-5.45,-0.95],[-5.12,-0.94],[-4.78,-0.96],[-4.12,-0.92],
[-5.62,-1.02],[-5.28,-1.06],[-4.92,-1.08],[-4.62,-1.03],[-4.35,-1.07],[-4.05,-1.04],
[-6.05,-1.14],[-5.75,-1.12],[-5.42,-1.16],[-4.80,-1.19],[-4.48,-1.17],
[-5.85,-1.27],[-5.52,-1.23],[-5.18,-1.26],[-4.85,-1.22],[-4.55,-1.26],[-4.22,-1.23],
[-6.10,-1.33],[-5.62,-1.35],[-5.30,-1.32],[-4.98,-1.36],[-4.65,-1.33],[-4.38,-1.37],
[-6.30,-1.44],[-5.72,-1.47],[-5.38,-1.45],[-5.05,-1.46],[-4.75,-1.45],[-4.48,-1.48],
[-6.45,-1.56],[-5.82,-1.57],[-5.50,-1.54],[-5.18,-1.56],[-4.85,-1.55],[-4.58,-1.59],
[-6.42,-1.62],[-5.72,-1.62],[-5.32,-1.66],[-5.00,-1.64],[-4.70,-1.68],[-4.40,-1.66],
[-6.35,-1.73],[-5.95,-1.77],[-5.62,-1.75],[-5.28,-1.74],[-4.92,-1.76],[-4.62,-1.79],
[-6.50,-1.85],[-5.80,-1.82],[-5.42,-1.87],[-5.08,-1.85],[-4.75,-1.86],[-4.45,-1.83],
[-6.20,-1.93],[-5.70,-1.97],[-5.35,-1.94],[-5.02,-1.96],[-4.68,-1.95],
[-6.65,-2.05],[-6.20,-2.03],[-5.85,-2.08],[-5.55,-2.03],[-5.25,-2.06],[-4.90,-2.04],
[-6.35,-2.18],[-5.40,-2.14],[-4.92,-2.19]
];

const RED = "rgba(255,0,0,0.3)";
const GREEN = "rgba(0,128,0,0.5)";
const BLUE = "rgba(0,0,255,0.72)";

export default function App() {
  const ref = useRef<HTMLDivElement>(null);
  useEffect(() => {
    const chart = echarts.init(ref.current as HTMLDivElement, null, { renderer: "svg" });
    const frame = { show: true, onZero: false, lineStyle: { color: "#222", width: 1 } };
    const tick = { show: true, inside: true, length: 5, lineStyle: { color: "#222", width: 1 } };
    const labelFont = { fontFamily: "DejaVu Sans", fontSize: 19, color: "#000" };
    const serif = "Liberation Serif";
    chart.setOption({
      animation: false,
      grid: { left: 91, right: 72, top: 64, bottom: 65 },
      xAxis: [
        {
          type: "value", position: "bottom", min: -10, max: 4, interval: 2,
          axisLine: frame, axisTick: tick, splitLine: { show: false },
          axisLabel: { ...labelFont, margin: 5, formatter: (v: number) => xTickLabels[xTickValues.indexOf(v)] ?? "" },
        },
        {
          type: "value", position: "top", min: -10, max: 4, interval: 2,
          axisLine: frame, axisTick: tick, splitLine: { show: false }, axisLabel: { show: false },
        },
      ],
      yAxis: [
        {
          type: "value", position: "left", min: -3, max: 0, interval: 0.5,
          axisLine: frame, axisTick: tick, splitLine: { show: false },
          axisLabel: { ...labelFont, margin: 4, formatter: (v: number) => yTickLabels[yTickValues.indexOf(v)] ?? "" },
        },
        {
          type: "value", position: "right", min: -3, max: 0, interval: 0.5,
          axisLine: frame, axisTick: tick, splitLine: { show: false }, axisLabel: { show: false },
        },
      ],
      series: [
        { name: seriesNames[0], type: "scatter", data: isolated, symbol: "circle", symbolSize: 7, itemStyle: { color: RED, borderColor: RED, borderWidth: 1 }, z: 2, progressive: 0, large: false, emphasis: { disabled: true } },
        { name: seriesNames[1], type: "scatter", data: pairs, symbol: "rect", symbolSize: 7.5, itemStyle: { color: GREEN, borderColor: GREEN, borderWidth: 1 }, z: 3, progressive: 0, large: false, emphasis: { disabled: true } },
        { name: seriesNames[2], type: "scatter", data: triplets, symbol: "triangle", symbolSize: 8, itemStyle: { color: BLUE, borderColor: BLUE, borderWidth: 0.8 }, z: 4, progressive: 0, large: false, emphasis: { disabled: true } },
      ],
      graphic: [
        { type: "rect", z: 100, shape: { x: 99.5, y: 74.5, width: 128, height: 86 }, style: { fill: "#fff", stroke: "#000", lineWidth: 1 } },
        { type: "circle", z: 101, shape: { cx: 125, cy: 89.5, r: 3.7 }, style: { fill: RED, stroke: RED, lineWidth: 1 } },
        { type: "rect", z: 101, shape: { x: 121.3, y: 111.8, width: 7.4, height: 7.4 }, style: { fill: GREEN, stroke: GREEN, lineWidth: 1 } },
        { type: "polygon", z: 101, shape: { points: [[125, 137.5], [129.2, 145.5], [120.8, 145.5]] }, style: { fill: BLUE, stroke: BLUE, lineWidth: 0.8 } },
        { type: "text", z: 101, x: 158, y: 89.5, style: { text: seriesNames[0], fontSize: 19, fontFamily: serif, fill: "#000", verticalAlign: "middle" } },
        { type: "text", z: 101, x: 158, y: 115.5, style: { text: seriesNames[1], fontSize: 19, fontFamily: serif, fill: "#000", verticalAlign: "middle" } },
        { type: "text", z: 101, x: 158, y: 141.5, style: { text: seriesNames[2], fontSize: 19, fontFamily: serif, fill: "#000", verticalAlign: "middle" } },
        { type: "text", z: 101, x: 343, y: 621, style: { text: "Q", fontSize: 26, fontStyle: "italic", fontFamily: serif, fill: "#000", verticalAlign: "middle" } },
        { type: "text", z: 101, x: 362, y: 630, style: { text: "LSS", fontSize: 20, fontFamily: serif, fill: "#000", verticalAlign: "middle" } },
        {
          type: "group", x: 13.6, y: 368, rotation: Math.PI / 2, z: 101,
          children: [
            { type: "text", x: 0, y: 0, style: { text: "\u03b7", fontSize: 26, fontStyle: "italic", fontFamily: serif, fill: "#000", verticalAlign: "middle" } },
            {
              type: "text", x: 15, y: 11.4,
              style: {
                text: "{k|k}{r|,LSS}", verticalAlign: "middle", fill: "#000",
                rich: {
                  k: { fontSize: 20, fontStyle: "italic", fontFamily: serif, fill: "#000" },
                  r: { fontSize: 20, fontFamily: serif, fill: "#000" },
                },
              },
            },
          ],
        },
      ],
    });
    return () => chart.dispose();
  }, []);
  return <div ref={ref} style={{ position: "absolute", left: 0, top: 0, width: 721, height: 649 }} />;
}
